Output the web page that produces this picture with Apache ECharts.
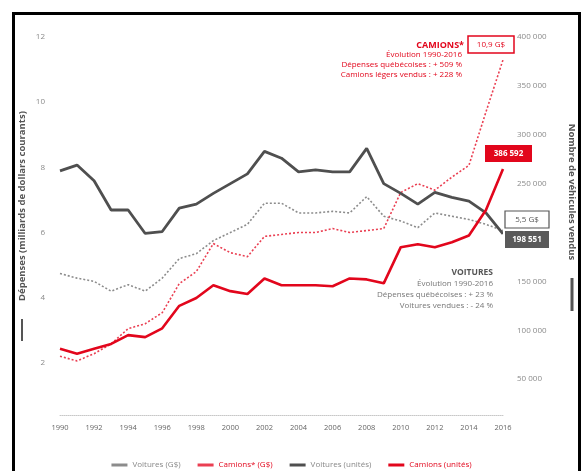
<!DOCTYPE html>
<html>
<head>
<meta charset="utf-8">
<script src="https://cdn.jsdelivr.net/npm/echarts@6/dist/echarts.min.js"></script>
<style>
html,body{margin:0;padding:0;background:#fff;}
#c{width:583px;height:471px;}
</style>
</head>
<body>
<div id="c"></div>
<script>
var years = ['1990','1991','1992','1993','1994','1995','1996','1997','1998','1999','2000','2001','2002','2003','2004','2005','2006','2007','2008','2009','2010','2011','2012','2013','2014','2015','2016'];
var carsSpend = [4.74,4.6,4.5,4.2,4.4,4.2,4.6,5.2,5.35,5.75,6.0,6.25,6.9,6.9,6.6,6.6,6.65,6.6,7.1,6.5,6.35,6.15,6.6,6.5,6.4,6.25,6.06];
var trucksSpend = [2.2,2.06,2.28,2.58,3.05,3.2,3.54,4.43,4.8,5.66,5.38,5.26,5.88,5.94,6.0,6.0,6.12,6.0,6.06,6.12,7.23,7.5,7.3,7.7,8.06,9.7,11.3];
var carsUnits = [263000,269000,253000,223000,223000,199000,201000,225000,229000,240000,250000,260000,283000,276000,262000,264000,262000,262000,286000,250000,240000,229000,241000,236000,232000,220000,198551];
var trucksUnits = [81000,76000,81000,86000,95000,93000,102000,125000,133000,146000,140000,137000,153000,146000,146000,146000,145000,153000,152000,148000,185000,188000,185000,190000,197000,223000,265000];
var seriesNames = ['Voitures (G$)','Camions* (G$)','Voitures (unités)','Camions (unités)'];

var FONT = '"Open Sans", sans-serif';
var GRAY = '#8c8c8c', DARK = '#4f4f4f', RED = '#e2061c', RED2 = '#ea3f52';

var chart = echarts.init(document.getElementById('c'));
function fmtThousands(v){ return String(v).replace(/\B(?=(\d{3})+(?!\d))/g,' '); }
function legendItem(name, col, txt){
  return {name:name, icon:'rect',
    itemStyle:{color:col,borderWidth:0,borderType:'solid',opacity:1},
    lineStyle:{type:'solid',width:0,opacity:0},
    textStyle:{color:txt}};
}

chart.setOption({
  backgroundColor:'#fff',
  animation:false,
  grid:{left:60,right:80,top:37,bottom:43},
  legend:{
    left:'center', top:456, itemWidth:16, itemHeight:3, itemGap:17,
    textStyle:{fontSize:8,fontFamily:FONT},
    data:[
      legendItem(seriesNames[0],GRAY,'#888'),
      legendItem(seriesNames[1],RED2,RED),
      legendItem(seriesNames[2],DARK,'#888'),
      legendItem(seriesNames[3],RED,RED)
    ]
  },
  xAxis:{
    type:'category', data:years, boundaryGap:false, offset:-13,
    axisLine:{show:true,lineStyle:{color:'#c8c8c8',type:'dotted',width:1}},
    axisTick:{show:false},
    axisLabel:{interval:1,color:'#666',fontSize:7.5,fontFamily:FONT,margin:9}
  },
  yAxis:[
    {type:'value',min:0,max:12,interval:2,
     axisLine:{show:false},axisTick:{show:false},splitLine:{show:false},
     axisLabel:{color:'#8a8a8a',fontSize:8,fontFamily:FONT,margin:15,
       formatter:function(v){return v===0?'':String(v);}}},
    {type:'value',min:0,max:400000,interval:50000,position:'right',
     axisLine:{show:false},axisTick:{show:false},splitLine:{show:false},
     axisLabel:{color:'#8a8a8a',fontSize:8,fontFamily:FONT,margin:14,
       formatter:function(v){return v===0?'':fmtThousands(v);}}}
  ],
  series:[
    {name:seriesNames[0],type:'line',yAxisIndex:0,data:carsSpend,symbol:'none',
     lineStyle:{color:GRAY,width:1.6,type:[2,2]},itemStyle:{color:GRAY},z:2},
    {name:seriesNames[1],type:'line',yAxisIndex:0,data:trucksSpend,symbol:'none',
     lineStyle:{color:RED2,width:1.6,type:[2,2]},itemStyle:{color:RED2},z:2},
    {name:seriesNames[2],type:'line',yAxisIndex:1,data:carsUnits,symbol:'none',
     lineStyle:{color:DARK,width:2.8},itemStyle:{color:DARK},z:3},
    {name:seriesNames[3],type:'line',yAxisIndex:1,data:trucksUnits,symbol:'none',
     lineStyle:{color:RED,width:2.6},itemStyle:{color:RED},z:3}
  ],
  graphic:[
    {type:'rect',shape:{x:13.5,y:13.5,width:566,height:480},style:{fill:'none',stroke:'#000',lineWidth:3},z:100},
    // left axis name
    {type:'text',x:22,y:206,rotation:Math.PI/2,style:{text:'Dépenses (milliards de dollars courants)',fill:'#555',font:'bold 9.5px '+FONT,textAlign:'center',textVerticalAlign:'middle'},z:50},
    {type:'rect',shape:{x:21,y:319,width:2,height:22},style:{fill:'#555'},z:50},
    // right axis name
    {type:'text',x:572,y:192,rotation:-Math.PI/2,style:{text:'Nombre de véhicules vendus',fill:'#555',font:'bold 9.5px '+FONT,textAlign:'center',textVerticalAlign:'middle'},z:50},
    {type:'rect',shape:{x:570.5,y:278,width:3,height:33},style:{fill:'#555'},z:50},
    // camions annotations
    {type:'text',x:464,y:45,style:{text:'CAMIONS*',fill:RED,font:'bold 9px '+FONT,textAlign:'right',textVerticalAlign:'middle'},z:50},
    {type:'text',x:462,y:55,style:{text:'Évolution 1990-2016',fill:RED,font:'8px '+FONT,textAlign:'right',textVerticalAlign:'middle'},z:50},
    {type:'text',x:462,y:65,style:{text:'Dépenses québécoises : + 509 %',fill:RED,font:'8px '+FONT,textAlign:'right',textVerticalAlign:'middle'},z:50},
    {type:'text',x:462,y:75,style:{text:'Camions légers vendus : + 228 %',fill:RED,font:'8px '+FONT,textAlign:'right',textVerticalAlign:'middle'},z:50},
    {type:'rect',shape:{x:468,y:36,width:46,height:17},style:{fill:'#fff',stroke:RED,lineWidth:1.5},z:60},
    {type:'text',x:491,y:44.5,style:{text:'10,9 G$',fill:RED,font:'8px '+FONT,textAlign:'center',textVerticalAlign:'middle'},z:61},
    {type:'rect',shape:{x:485,y:145,width:47,height:17},style:{fill:RED},z:60},
    {type:'text',x:508.5,y:153.5,style:{text:'386 592',fill:'#fff',font:'bold 8px '+FONT,textAlign:'center',textVerticalAlign:'middle'},z:61},
    // voitures annotations
    {type:'rect',shape:{x:503,y:209,width:48,height:41},style:{fill:'#fff'},z:59},
    {type:'rect',shape:{x:505,y:211,width:44,height:17},style:{fill:'#fff',stroke:'#555',lineWidth:1.2},z:60},
    {type:'text',x:527,y:219.5,style:{text:'5,5 G$',fill:'#555',font:'8px '+FONT,textAlign:'center',textVerticalAlign:'middle'},z:61},
    {type:'rect',shape:{x:505,y:231,width:44,height:17},style:{fill:'#5a5a5a'},z:60},
    {type:'text',x:527,y:239.5,style:{text:'198 551',fill:'#fff',font:'bold 8px '+FONT,textAlign:'center',textVerticalAlign:'middle'},z:61},
    {type:'text',x:493,y:273,style:{text:'VOITURES',fill:'#555',font:'bold 8.5px '+FONT,textAlign:'right',textVerticalAlign:'middle'},z:50},
    {type:'text',x:493,y:284,style:{text:'Évolution 1990-2016',fill:'#777',font:'8px '+FONT,textAlign:'right',textVerticalAlign:'middle'},z:50},
    {type:'text',x:493,y:295,style:{text:'Dépenses québécoises : + 23 %',fill:'#777',font:'8px '+FONT,textAlign:'right',textVerticalAlign:'middle'},z:50},
    {type:'text',x:493,y:306,style:{text:'Voitures vendues : - 24 %',fill:'#777',font:'8px '+FONT,textAlign:'right',textVerticalAlign:'middle'},z:50}
  ]
});
</script>
</body>
</html>
